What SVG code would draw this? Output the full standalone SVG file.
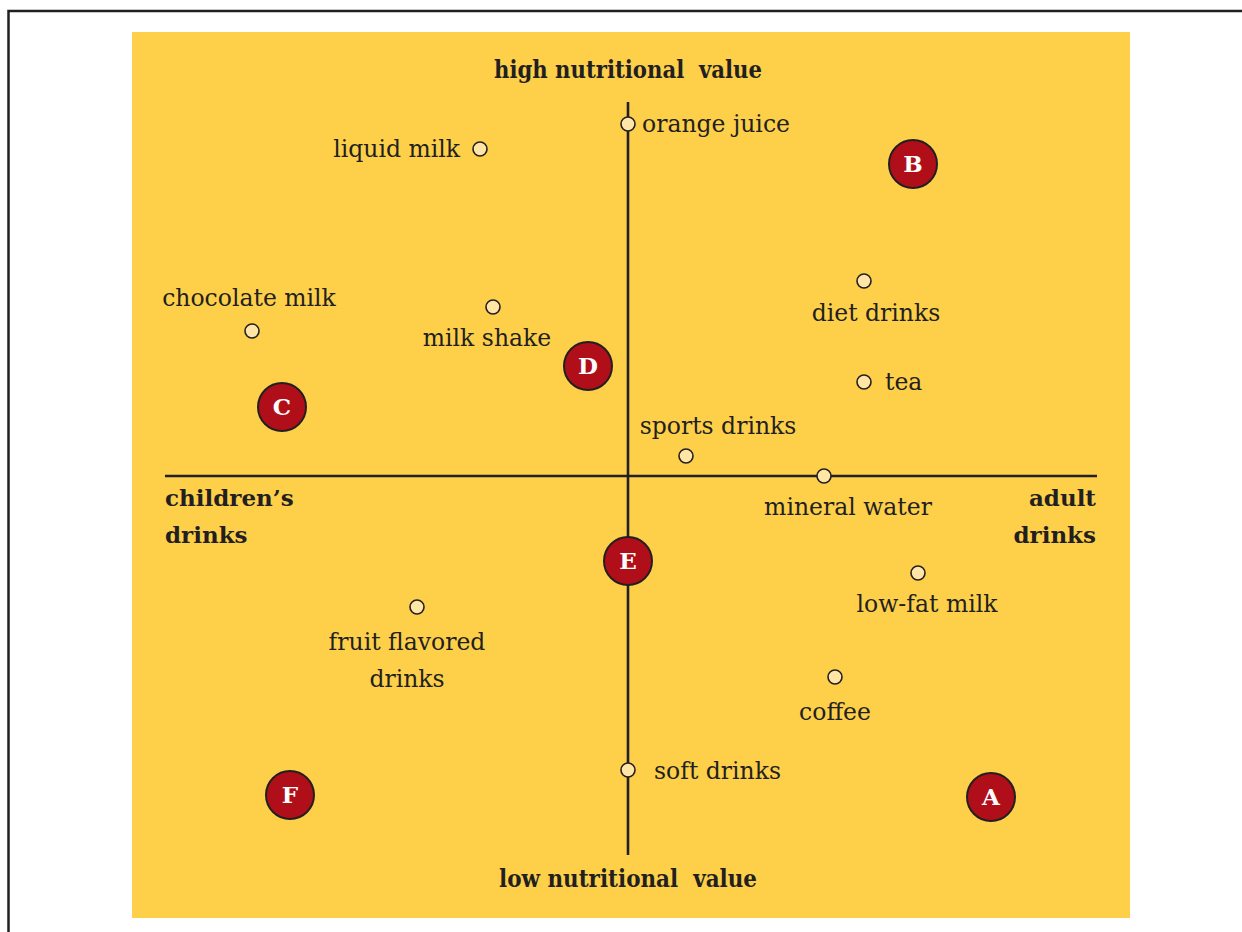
<svg xmlns="http://www.w3.org/2000/svg" width="1242" height="932" viewBox="0 0 1242 932">
  <style>
    .lbl { font-family: "DejaVu Serif", "Liberation Serif", serif; font-size: 23.5px; fill: #231f20; }
    .axis-title { font-family: "DejaVu Serif", "Liberation Serif", serif; font-size: 23px; font-weight: bold; fill: #231f20; }
    .axis-head { font-family: "DejaVu Serif", "Liberation Serif", serif; font-size: 25px; font-weight: bold; fill: #231f20; text-anchor: middle; }
    .pt { fill: #ffe6a6; stroke: #231f20; stroke-width: 1.6; }
    .seg { fill: #b00f1a; stroke: #231f20; stroke-width: 2; }
    .seg-txt { font-family: "DejaVu Serif", "Liberation Serif", serif; font-size: 23px; font-weight: bold; fill: #ffffff; text-anchor: middle; }
    .ax { stroke: #231f20; stroke-width: 2.6; fill: none; }
  </style>

  <rect width="1242" height="932" fill="#ffffff"/>
  <!-- outer frame, running off the right and bottom edges -->
  <path d="M8.5,932 V11 H1242" fill="none" stroke="#231f20" stroke-width="2.5"/>

  <!-- chart panel -->
  <rect x="132" y="32" width="998" height="886" fill="#fed04a"/>

  <!-- axes -->
  <g id="connectors">
    <line class="ax" x1="628" y1="102" x2="628" y2="855"/>
    <line class="ax" x1="165" y1="476" x2="1097" y2="476"/>
  </g>

  <!-- axis titles -->
  <g id="axis-titles">
    <text class="axis-head" x="628" y="78" xml:space="preserve" textLength="268" lengthAdjust="spacingAndGlyphs">high nutritional  value</text>
    <text class="axis-head" x="628" y="887" xml:space="preserve" textLength="258" lengthAdjust="spacingAndGlyphs">low nutritional  value</text>
    <text class="axis-title" x="165" y="506">children’s</text>
    <text class="axis-title" x="165" y="543">drinks</text>
    <text class="axis-title" x="1096" y="506" text-anchor="end">adult</text>
    <text class="axis-title" x="1096" y="543" text-anchor="end">drinks</text>
  </g>

  <!-- drink positions -->
  <g id="orange-juice">
    <circle class="pt" cx="628" cy="124" r="7"/>
    <text class="lbl" x="642" y="132">orange juice</text>
  </g>
  <g id="liquid-milk">
    <circle class="pt" cx="480" cy="149" r="7"/>
    <text class="lbl" x="460" y="157" text-anchor="end">liquid milk</text>
  </g>
  <g id="chocolate-milk">
    <circle class="pt" cx="252" cy="331" r="7"/>
    <text class="lbl" x="249" y="306" text-anchor="middle">chocolate milk</text>
  </g>
  <g id="milk-shake">
    <circle class="pt" cx="493" cy="307" r="7"/>
    <text class="lbl" x="487" y="346" text-anchor="middle">milk shake</text>
  </g>
  <g id="diet-drinks">
    <circle class="pt" cx="864" cy="281" r="7"/>
    <text class="lbl" x="876" y="321" text-anchor="middle">diet drinks</text>
  </g>
  <g id="tea">
    <circle class="pt" cx="864" cy="382" r="7"/>
    <text class="lbl" x="885" y="390">tea</text>
  </g>
  <g id="sports-drinks">
    <circle class="pt" cx="686" cy="456" r="7"/>
    <text class="lbl" x="718" y="434" text-anchor="middle">sports drinks</text>
  </g>
  <g id="mineral-water">
    <circle class="pt" cx="824" cy="476" r="7"/>
    <text class="lbl" x="848" y="515" text-anchor="middle">mineral water</text>
  </g>
  <g id="low-fat-milk">
    <circle class="pt" cx="918" cy="573" r="7"/>
    <text class="lbl" x="927" y="612" text-anchor="middle">low-fat milk</text>
  </g>
  <g id="fruit-flavored-drinks">
    <circle class="pt" cx="417" cy="607" r="7"/>
    <text class="lbl" x="407" y="650" text-anchor="middle">fruit flavored</text>
    <text class="lbl" x="407" y="687" text-anchor="middle">drinks</text>
  </g>
  <g id="coffee">
    <circle class="pt" cx="835" cy="677" r="7"/>
    <text class="lbl" x="835" y="720" text-anchor="middle">coffee</text>
  </g>
  <g id="soft-drinks">
    <circle class="pt" cx="628" cy="770" r="7"/>
    <text class="lbl" x="654" y="779">soft drinks</text>
  </g>

  <!-- segment markers -->
  <g id="seg-A">
    <circle class="seg" cx="991" cy="797" r="24"/>
    <text class="seg-txt" x="991" y="805">A</text>
  </g>
  <g id="seg-B">
    <circle class="seg" cx="913" cy="164" r="24"/>
    <text class="seg-txt" x="913" y="172">B</text>
  </g>
  <g id="seg-C">
    <circle class="seg" cx="282" cy="407" r="24"/>
    <text class="seg-txt" x="282" y="415">C</text>
  </g>
  <g id="seg-D">
    <circle class="seg" cx="588" cy="366" r="24"/>
    <text class="seg-txt" x="588" y="374">D</text>
  </g>
  <g id="seg-E">
    <circle class="seg" cx="628" cy="561" r="24"/>
    <text class="seg-txt" x="628" y="569">E</text>
  </g>
  <g id="seg-F">
    <circle class="seg" cx="290" cy="795" r="24"/>
    <text class="seg-txt" x="290" y="803">F</text>
  </g>
</svg>
